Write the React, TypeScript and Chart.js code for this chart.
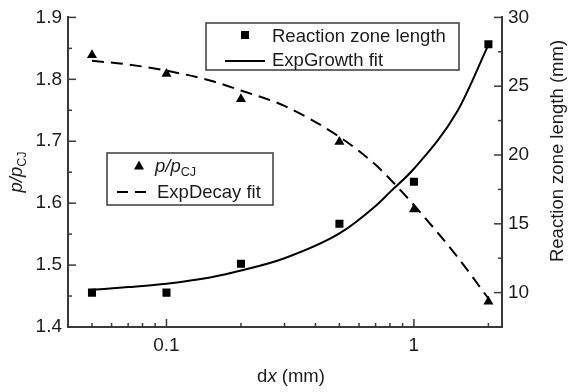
import { useEffect, useRef } from 'react';
import { Chart, registerables } from 'chart.js';

Chart.register(...registerables);

// Measured points
const dxValues = [0.05, 0.1, 0.2, 0.5, 1, 2];
const pressureRatio = [1.839, 1.809, 1.768, 1.699, 1.590, 1.441];
const zoneLength = [10.0, 10.0, 12.1, 15.0, 18.05, 28.05];

// Fitted curves, sampled along dx
const fitDx = [0.05, 0.07, 0.1, 0.15, 0.2, 0.3, 0.5, 0.7, 0.8, 1, 1.5, 2];
const expDecayFit = [1.830, 1.824, 1.814, 1.798, 1.782, 1.757, 1.707, 1.662, 1.639, 1.597, 1.513, 1.446];
const expGrowthFit = [10.2, 10.4, 10.65, 11.1, 11.6, 12.5, 14.3, 16.3, 17.3, 19.0, 23.2, 28.0];

// Axis ticks
const xLabelTicks = [0.1, 1];
const xMinorTicks = [0.05, 0.06, 0.07, 0.08, 0.09, 0.2, 0.3, 0.4, 0.5, 0.6, 0.7, 0.8, 0.9, 2];
const leftTicks = [1.4, 1.5, 1.6, 1.7, 1.8, 1.9];
const leftMinorTicks = [1.45, 1.55, 1.65, 1.75, 1.85];
const rightTicks = [10, 15, 20, 25, 30];
const rightMinorTicks = [12.5, 17.5, 22.5, 27.5];

const FONT = '"Liberation Sans", Arial, Helvetica, sans-serif';
const INK = '#1c1c1c';
const AXIS = '#3a3a3a';
const TICK_SIZE = 19;
const TEXT_SIZE = 18.5;

type Part = { text: string; italic?: boolean; sub?: boolean };

function partFont(p: Part, size: number) {
  const s = p.sub ? size * 0.68 : size;
  return `${p.italic ? 'italic ' : ''}${s}px ${FONT}`;
}

function richWidth(ctx: CanvasRenderingContext2D, parts: Part[], size: number) {
  let w = 0;
  for (const p of parts) {
    ctx.font = partFont(p, size);
    w += ctx.measureText(p.text).width;
  }
  return w;
}

// Draws mixed italic / subscript text starting at (x, y) on the alphabetic baseline
function drawRich(ctx: CanvasRenderingContext2D, parts: Part[], x: number, y: number, size: number) {
  let cx = x;
  ctx.textBaseline = 'alphabetic';
  ctx.textAlign = 'left';
  for (const p of parts) {
    ctx.font = partFont(p, size);
    ctx.fillText(p.text, cx, p.sub ? y + size * 0.24 : y);
    cx += ctx.measureText(p.text).width;
  }
}

const pRatioLabel: Part[] = [
  { text: 'p', italic: true },
  { text: '/', italic: true },
  { text: 'p', italic: true },
  { text: 'CJ', sub: true },
];

const decorations = {
  id: 'decorations',
  afterDraw(chart: any) {
    const { ctx, chartArea: a } = chart;
    const xs = chart.scales.x;
    const yl = chart.scales.y;
    const yr = chart.scales.y1;
    ctx.save();

    // inward tick marks
    ctx.strokeStyle = AXIS;
    ctx.lineWidth = 1.5;
    const seg = (x1: number, y1: number, x2: number, y2: number) => {
      ctx.beginPath();
      ctx.moveTo(x1, y1);
      ctx.lineTo(x2, y2);
      ctx.stroke();
    };
    for (const v of xLabelTicks) {
      const px = xs.getPixelForValue(v);
      seg(px, a.bottom, px, a.bottom - 8);
    }
    for (const v of xMinorTicks) {
      const px = xs.getPixelForValue(v);
      seg(px, a.bottom, px, a.bottom - 4);
    }
    for (const v of leftTicks) {
      const py = yl.getPixelForValue(v);
      seg(a.left, py, a.left + 8, py);
    }
    for (const v of leftMinorTicks) {
      const py = yl.getPixelForValue(v);
      seg(a.left, py, a.left + 4, py);
    }
    for (const v of rightTicks) {
      const py = yr.getPixelForValue(v);
      seg(a.right, py, a.right - 8, py);
    }
    for (const v of rightMinorTicks) {
      const py = yr.getPixelForValue(v);
      seg(a.right, py, a.right - 4, py);
    }

    ctx.fillStyle = INK;

    // x-axis title
    const xTitle: Part[] = [{ text: 'd' }, { text: 'x', italic: true }, { text: ' (mm)' }];
    const xw = richWidth(ctx, xTitle, TEXT_SIZE);
    drawRich(ctx, xTitle, 291 - xw / 2, 382, TEXT_SIZE);

    // left y-axis title
    ctx.save();
    ctx.translate(22, 172);
    ctx.rotate(-Math.PI / 2);
    const lw = richWidth(ctx, pRatioLabel, TEXT_SIZE);
    drawRich(ctx, pRatioLabel, -lw / 2, 0, TEXT_SIZE);
    ctx.restore();

    // right y-axis title
    ctx.save();
    ctx.translate(563, 151);
    ctx.rotate(-Math.PI / 2);
    ctx.font = `${TEXT_SIZE}px ${FONT}`;
    ctx.textAlign = 'center';
    ctx.textBaseline = 'alphabetic';
    ctx.fillText('Reaction zone length (mm)', 0, 0);
    ctx.restore();

    // legend: reaction zone length
    ctx.fillStyle = '#ffffff';
    ctx.strokeStyle = AXIS;
    ctx.lineWidth = 1.5;
    ctx.fillRect(206, 23, 253, 47);
    ctx.strokeRect(206, 23, 253, 47);
    ctx.fillStyle = '#000';
    ctx.fillRect(241, 31, 8, 8);
    ctx.strokeStyle = '#000';
    ctx.lineWidth = 2;
    ctx.setLineDash([]);
    seg(225, 61, 265, 61);
    ctx.fillStyle = INK;
    ctx.font = `${TEXT_SIZE}px ${FONT}`;
    ctx.textAlign = 'left';
    ctx.textBaseline = 'alphabetic';
    ctx.fillText('Reaction zone length', 272, 41.5);
    ctx.fillText('ExpGrowth fit', 272, 66);

    // legend: pressure ratio
    ctx.fillStyle = '#ffffff';
    ctx.strokeStyle = AXIS;
    ctx.lineWidth = 1.5;
    ctx.fillRect(107, 153, 166, 52);
    ctx.strokeRect(107, 153, 166, 52);
    ctx.fillStyle = '#000';
    ctx.beginPath();
    ctx.moveTo(139, 160.5);
    ctx.lineTo(144, 169.5);
    ctx.lineTo(134, 169.5);
    ctx.closePath();
    ctx.fill();
    ctx.strokeStyle = '#000';
    ctx.lineWidth = 2;
    ctx.setLineDash([11, 7]);
    seg(117, 192, 149, 192);
    ctx.setLineDash([]);
    ctx.fillStyle = INK;
    drawRich(ctx, pRatioLabel, 155, 172, TEXT_SIZE);
    ctx.font = `${TEXT_SIZE}px ${FONT}`;
    ctx.textAlign = 'left';
    ctx.textBaseline = 'alphabetic';
    ctx.fillText('ExpDecay fit', 157, 198);

    ctx.restore();
  },
};

export default function App() {
  const canvasRef = useRef<HTMLCanvasElement | null>(null);

  useEffect(() => {
    const canvas = canvasRef.current;
    if (!canvas) return;

    const pts = (xsArr: number[], ysArr: number[]) => xsArr.map((x, i) => ({ x, y: ysArr[i] }));

    const chart = new Chart(canvas, {
      type: 'scatter',
      data: {
        datasets: [
          {
            label: 'ExpDecay fit',
            data: pts(fitDx, expDecayFit),
            yAxisID: 'y',
            showLine: true,
            borderColor: '#000',
            borderWidth: 2,
            borderDash: [12, 7],
            pointRadius: 0,
            cubicInterpolationMode: 'monotone',
          },
          {
            label: 'ExpGrowth fit',
            data: pts(fitDx, expGrowthFit),
            yAxisID: 'y1',
            showLine: true,
            borderColor: '#000',
            borderWidth: 2,
            pointRadius: 0,
            cubicInterpolationMode: 'monotone',
          },
          {
            label: 'p/pCJ',
            data: pts(dxValues, pressureRatio),
            yAxisID: 'y',
            showLine: false,
            pointStyle: 'triangle',
            pointRadius: 5.8,
            backgroundColor: '#000',
            borderColor: '#000',
            borderWidth: 0,
          },
          {
            label: 'Reaction zone length',
            data: pts(dxValues, zoneLength),
            yAxisID: 'y1',
            showLine: false,
            pointStyle: 'rect',
            pointRadius: 5.7,
            backgroundColor: '#000',
            borderColor: '#000',
            borderWidth: 0,
          },
        ],
      },
      options: {
        responsive: false,
        animation: false,
        layout: { padding: { top: 14, left: 0, right: 0, bottom: 0 } },
        plugins: {
          legend: { display: false },
          tooltip: { enabled: false },
        },
        scales: {
          x: {
            type: 'logarithmic',
            position: 'bottom',
            min: 0.04,
            max: 2.27,
            grid: { display: false, drawTicks: false },
            border: { display: true, color: AXIS, width: 2 },
            afterBuildTicks: (scale: any) => {
              scale.ticks = xLabelTicks.map((value) => ({ value }));
            },
            afterFit: (scale: any) => {
              scale.height = 65;
            },
            ticks: {
              padding: 7,
              color: INK,
              font: { family: FONT, size: TICK_SIZE },
              maxRotation: 0,
              autoSkip: false,
              callback: (v: any) => String(v),
            },
          },
          y: {
            type: 'linear',
            position: 'left',
            min: 1.4,
            max: 1.9,
            grid: { display: false, drawTicks: false },
            border: { display: true, color: AXIS, width: 2 },
            afterBuildTicks: (scale: any) => {
              scale.ticks = leftTicks.map((value) => ({ value }));
            },
            afterFit: (scale: any) => {
              scale.width = 68;
            },
            ticks: {
              padding: 6,
              color: INK,
              font: { family: FONT, size: TICK_SIZE },
              callback: (v: any) => Number(v).toFixed(1),
            },
          },
          y1: {
            type: 'linear',
            position: 'right',
            min: 7.5,
            max: 30,
            grid: { display: false, drawTicks: false },
            border: { display: true, color: AXIS, width: 2 },
            afterBuildTicks: (scale: any) => {
              scale.ticks = rightTicks.map((value) => ({ value }));
            },
            afterFit: (scale: any) => {
              scale.width = 66;
            },
            ticks: {
              padding: 6,
              color: INK,
              font: { family: FONT, size: TICK_SIZE },
              callback: (v: any) => String(v),
            },
          },
        },
      },
      plugins: [decorations],
    } as any);

    return () => chart.destroy();
  }, []);

  return (
    <div style={{ position: 'fixed', left: 0, top: 0, width: 568, height: 392, background: '#fff' }}>
      <canvas ref={canvasRef} width={568} height={392} style={{ display: 'block' }} />
    </div>
  );
}
